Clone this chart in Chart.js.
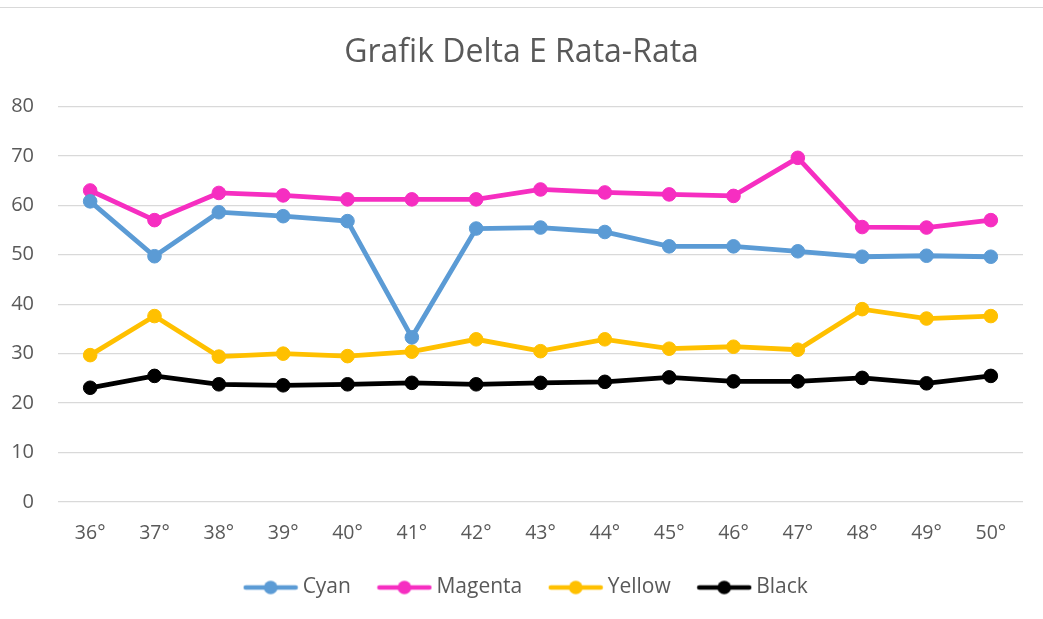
<!DOCTYPE html>
<html>
<head>
<meta charset="utf-8">
<script src="https://cdn.jsdelivr.net/npm/chart.js@4"></script>
<style>
  html, body { margin: 0; padding: 0; background: #fff; }
  #wrap { position: relative; width: 1043px; height: 619px; }
  #topline { position: absolute; left: 0; top: 7px; width: 1043px; height: 1px; background: #d9d9d9; }
</style>
</head>
<body>
<div id="wrap">
  <div id="topline"></div>
  <canvas id="chart" width="1043" height="619"></canvas>
</div>
<script>
// categories and values
const angles = ["36°", "37°", "38°", "39°", "40°", "41°", "42°", "43°", "44°", "45°", "46°", "47°", "48°", "49°", "50°"];
const cyan    = [60.8, 49.7, 58.6, 57.8, 56.8, 33.3, 55.3, 55.5, 54.6, 51.7, 51.7, 50.7, 49.6, 49.8, 49.6];
const magenta = [63.0, 57.0, 62.5, 62.0, 61.2, 61.2, 61.2, 63.2, 62.6, 62.2, 61.9, 69.6, 55.6, 55.5, 57.0];
const yellow  = [29.7, 37.6, 29.4, 30.0, 29.5, 30.4, 32.9, 30.5, 32.9, 31.0, 31.4, 30.8, 39.0, 37.1, 37.6];
const black   = [23.1, 25.5, 23.8, 23.6, 23.8, 24.1, 23.8, 24.1, 24.3, 25.2, 24.4, 24.4, 25.1, 24.0, 25.5];
const yTicks  = [0, 10, 20, 30, 40, 50, 60, 70, 80];

const textColor = '#595959';
const fontFamily = '"Open Sans", "Noto Sans", sans-serif';

// legend marker: short line with a dot in the middle, like the spreadsheet legend
function legendMarker(color) {
    const c = document.createElement('canvas');
    c.width = 56;
    c.height = 16;
    const g = c.getContext('2d');
    g.strokeStyle = color;
    g.lineWidth = 4.5;
    g.lineCap = 'round';
    g.beginPath();
    g.moveTo(3, 8);
    g.lineTo(53, 8);
    g.stroke();
    g.fillStyle = color;
    g.beginPath();
    g.arc(28, 8, 6.8, 0, Math.PI * 2);
    g.fill();
    return c;
}

function series(label, data, color) {
    return {
        label: label,
        data: data,
        borderColor: color,
        backgroundColor: color,
        borderWidth: 4.8,
        pointRadius: 6.8,
        pointHoverRadius: 6.8,
        pointBorderWidth: 1,
        pointBorderColor: color,
        pointBackgroundColor: color,
        tension: 0,
        fill: false,
        pointStyle: 'circle',
        markerImg: legendMarker(color)
    };
}

// title and legend in the original sit a bit right of the plot centre
const blockShift = {
    id: 'blockShift',
    afterLayout(ch) {
        ch.legend.left += 17;
        ch.legend.right += 17;
        ch.titleBlock.left += 10;
        ch.titleBlock.right += 10;
    }
};

const ctx = document.getElementById('chart').getContext('2d');
const chart = new Chart(ctx, {
    type: 'line',
    data: {
        labels: angles,
        datasets: [
            series('Cyan', cyan, '#5B9BD5'),
            series('Magenta', magenta, '#F62EC1'),
            series('Yellow', yellow, '#FFC000'),
            series('Black', black, '#000000')
        ]
    },
    plugins: [blockShift],
    options: {
        responsive: false,
        animation: false,
        layout: {
            padding: { left: 0, right: 20, top: 0, bottom: 11 }
        },
        scales: {
            x: {
                offset: true,
                grid: { display: false, drawTicks: false },
                border: { display: false },
                afterFit: (scale) => {
                    scale.height = 43;
                },
                ticks: {
                    color: textColor,
                    padding: 20,
                    maxRotation: 0,
                    font: { family: fontFamily, size: 19.5 }
                }
            },
            y: {
                min: 0,
                max: 80,
                afterBuildTicks: (scale) => {
                    scale.ticks = yTicks.map(v => ({ value: v }));
                },
                afterFit: (scale) => {
                    scale.width = 58;
                },
                grid: { color: '#d9d9d9', lineWidth: 1.3, drawTicks: false },
                border: { display: false },
                ticks: {
                    color: textColor,
                    padding: 24,
                    font: { family: fontFamily, size: 20 }
                }
            }
        },
        plugins: {
            title: {
                display: true,
                text: 'Grafik Delta E Rata-Rata',
                color: textColor,
                font: { family: fontFamily, size: 32, weight: 'normal' },
                padding: { top: 34, bottom: 34 }
            },
            legend: {
                display: true,
                position: 'bottom',
                labels: {
                    color: textColor,
                    font: { family: fontFamily, size: 21 },
                    usePointStyle: true,
                    pointStyleWidth: 43,
                    padding: 32,
                    generateLabels: (ch) => ch.data.datasets.map((ds, i) => ({
                        text: ds.label,
                        fillStyle: ds.borderColor,
                        strokeStyle: ds.borderColor,
                        fontColor: textColor,
                        lineWidth: 0,
                        pointStyle: ds.markerImg,
                        hidden: false,
                        datasetIndex: i
                    }))
                }
            },
            tooltip: { enabled: false }
        }
    }
});
</script>
</body>
</html>
